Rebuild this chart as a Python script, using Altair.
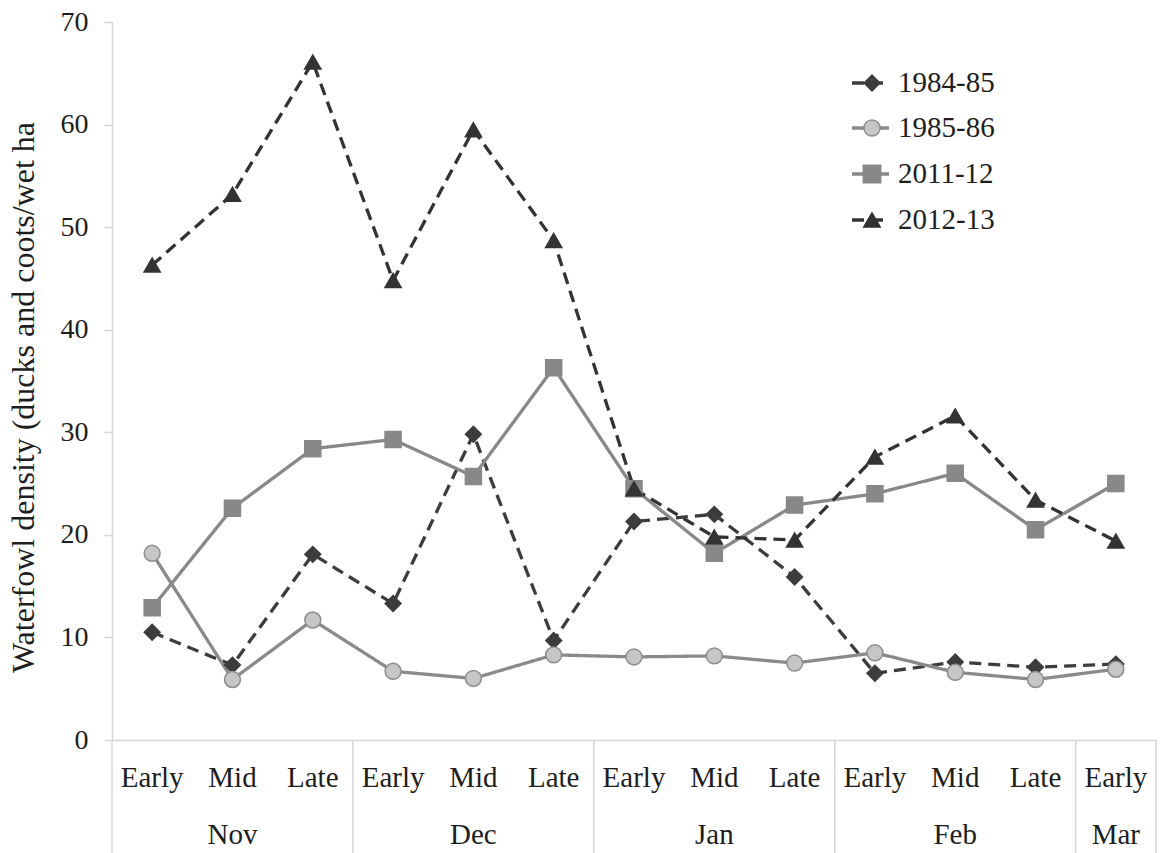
import altair as alt
import pandas as pd

# Survey periods (13 half-month windows from early November to early March)
periods = ["Early", "Mid", "Late", "Early", "Mid", "Late", "Early", "Mid", "Late",
           "Early", "Mid", "Late", "Early"]
months = ["Nov", "Dec", "Jan", "Feb", "Mar"]
month_centers = [1, 4, 7, 10, 12]
month_bounds = [-0.5, 2.5, 5.5, 8.5, 11.5, 12.5]

# Waterfowl density (ducks and coots per wet hectare) by winter
series_names = ["1984-85", "1985-86", "2011-12", "2012-13"]
d_1984_85 = [10.5, 7.3, 18.1, 13.3, 29.8, 9.7, 21.3, 22.0, 15.9, 6.5, 7.6, 7.1, 7.4]
d_1985_86 = [18.2, 5.9, 11.7, 6.7, 6.0, 8.3, 8.1, 8.2, 7.5, 8.5, 6.6, 5.9, 6.9]
d_2011_12 = [12.9, 22.6, 28.4, 29.3, 25.7, 36.3, 24.5, 18.2, 22.9, 24.0, 26.0, 20.5, 25.0]
d_2012_13 = [46.3, 53.2, 66.1, 44.8, 59.5, 48.7, 24.5, 19.8, 19.5, 27.6, 31.6, 23.4, 19.4]

line_colors = ["#3c3c3c", "#8a8a8a", "#888888", "#333333"]
fill_colors = ["#3c3c3c", "#c6c6c6", "#888888", "#333333"]
edge_colors = ["#3c3c3c", "#8e8e8e", "#888888", "#333333"]
shapes = ["diamond", "circle", "square", "triangle-up"]
dashes = [[12, 7], [1, 0], [1, 0], [12, 7]]
marker_sizes = [250, 260, 300, 270]

FONT = "Liberation Serif"
TXT = "#1e1e1e"
LABEL_SIZE = 29

rows = []
for name, vals in zip(series_names, [d_1984_85, d_1985_86, d_2011_12, d_2012_13]):
    for i, v in enumerate(vals):
        rows.append({"series": name, "idx": i, "density": v})
df = pd.DataFrame(rows)

x_scale = alt.Scale(domain=[-0.5, 12.5], nice=False, zero=False)
y_scale = alt.Scale(domain=[0, 70], nice=False)

x_enc = alt.X("idx:Q", scale=x_scale,
              axis=alt.Axis(labels=False, ticks=False, grid=False, title=None,
                            domainColor="#d6d6d6", domainWidth=1.5))
y_enc = alt.Y("density:Q", scale=y_scale,
              axis=alt.Axis(values=list(range(0, 71, 10)), grid=False,
                            title="Waterfowl density (ducks and coots/wet ha",
                            domainColor="#d6d6d6", domainWidth=1.5,
                            tickColor="#d6d6d6", tickSize=8, tickWidth=1.5,
                            labelFont=FONT, labelFontSize=28, labelColor=TXT,
                            labelPadding=16,
                            titleFont=FONT, titleFontSize=32, titleFontWeight="normal",
                            titleColor=TXT, titlePadding=20, titleY=375))

sel = alt.Scale(domain=series_names, range=line_colors)

lines = alt.Chart(df).mark_line(strokeWidth=3.3).encode(
    x=x_enc, y=y_enc,
    color=alt.Color("series:N", scale=sel, legend=None),
    strokeDash=alt.StrokeDash("series:N", scale=alt.Scale(domain=series_names, range=dashes), legend=None),
    detail="series:N",
)

points = alt.Chart(df).mark_point(filled=True, opacity=1, strokeWidth=1.5).encode(
    x="idx:Q", y="density:Q",
    fill=alt.Fill("series:N", scale=alt.Scale(domain=series_names, range=fill_colors), legend=None),
    stroke=alt.Stroke("series:N", scale=alt.Scale(domain=series_names, range=edge_colors), legend=None),
    shape=alt.Shape("series:N", scale=alt.Scale(domain=series_names, range=shapes), legend=None),
    size=alt.Size("series:N", scale=alt.Scale(domain=series_names, range=marker_sizes), legend=None),
)

# Category labels below the axis
period_df = pd.DataFrame({"idx": list(range(len(periods))), "label": periods})
period_text = alt.Chart(period_df).mark_text(
    font=FONT, fontSize=LABEL_SIZE, color=TXT, baseline="middle", align="center"
).encode(x="idx:Q", y=alt.value(756), text="label:N")

month_df = pd.DataFrame({"idx": month_centers, "label": months})
month_text = alt.Chart(month_df).mark_text(
    font=FONT, fontSize=LABEL_SIZE, color=TXT, baseline="middle", align="center"
).encode(x="idx:Q", y=alt.value(813), text="label:N")

bound_df = pd.DataFrame({"idx": month_bounds})
separators = alt.Chart(bound_df).mark_rule(color="#d6d6d6", strokeWidth=1.5).encode(
    x="idx:Q", y=alt.value(718), y2=alt.value(831)
)

# Legend: line sample, marker and label per series
legend_layers = []
legend_rows = [61, 106, 152, 198]
for k, name in enumerate(series_names):
    ldf = pd.DataFrame({"series": [name]})
    legend_layers.append(
        alt.Chart(ldf).mark_rule(color=line_colors[k], strokeWidth=3.3,
                                 strokeDash=dashes[k]).encode(
            x=alt.value(740), x2=alt.value(777), y=alt.value(legend_rows[k]))
    )
    legend_layers.append(
        alt.Chart(ldf).mark_point(filled=True, opacity=1, fill=fill_colors[k],
                                  stroke=edge_colors[k], strokeWidth=1.5,
                                  shape=shapes[k], size=marker_sizes[k]).encode(
            x=alt.value(760), y=alt.value(legend_rows[k]))
    )
    legend_layers.append(
        alt.Chart(ldf).mark_text(font=FONT, fontSize=LABEL_SIZE, color=TXT, align="left",
                                 baseline="middle").encode(
            x=alt.value(786), y=alt.value(legend_rows[k]), text="series:N")
    )

chart = alt.layer(separators, lines, points, period_text, month_text, *legend_layers).properties(
    width=1044, height=718,
    padding={"left": 112, "top": 22, "right": 5, "bottom": 113},
    autosize=alt.AutoSizeParams(type="none"),
    background="white",
).configure_view(stroke=None)

chart.save("out.html", embed_options={"renderer": "svg", "actions": False})
